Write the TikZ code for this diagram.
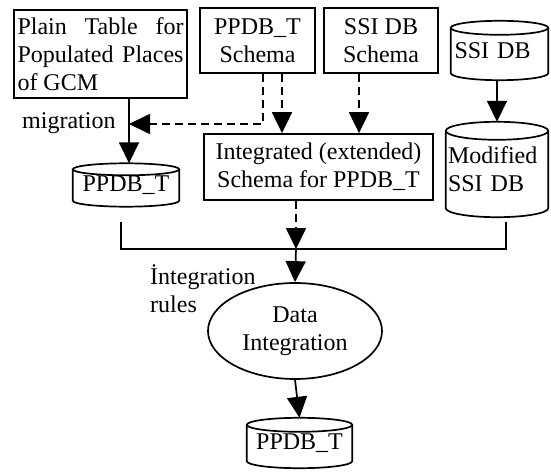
\documentclass[tikz,border=0pt]{standalone}
\usepackage{fontspec}
\setmainfont{Liberation Serif}
\usetikzlibrary{arrows.meta,shapes.geometric,calc}
\newcommand\cylout[2]{%
  \draw[ln] let \p1=(#1.west), \p2=(#1.east), \n1={(\x2-\x1)/2} in
    ([yshift=-#2pt]#1.north) ellipse [x radius=\n1, y radius=#2pt]
    ([yshift=-#2pt]#1.north west) -- ([yshift=#2pt]#1.south west)
    arc[start angle=180, end angle=360, x radius=\n1, y radius=#2pt]
    -- ([yshift=-#2pt]#1.north east);}
\begin{document}
\begin{tikzpicture}[x=1pt,y=-1pt,
  font=\fontsize{24}{28}\selectfont,
  ln/.style={line width=1.7pt},
  box/.style={draw, line width=1.7pt, inner sep=0pt, align=center},
  cyl/.style={draw=none, inner sep=0pt, align=center},
  conn/.style={line width=1.7pt, -{Triangle[length=21pt,width=20pt]}},
  dsh/.style={dash pattern=on 8pt off 5pt}]
\useasboundingbox (0,0) rectangle (551,473);

% boxes
\node[box, minimum width=173pt, minimum height=88pt, align=left] (plain) at (100.5,54)
  {\makebox[166pt][s]{Plain Table for}\\\makebox[166pt][s]{Populated Places}\\of GCM};
\node[box, minimum width=115pt, minimum height=65pt] (ppdbS) at (257.5,40.5) {PPDB\_T\\Schema};
\node[box, minimum width=114pt, minimum height=65pt] (ssiS) at (381,40.5) {SSI DB\\Schema};
\node[box, minimum width=229pt, minimum height=66pt] (integ) at (318.5,167) {Integrated (extended)\\Schema for PPDB\_T};

% cylinders
\node[cyl, minimum width=106pt, minimum height=43pt] (ppdb1) at (126,185) {PPDB\_T};
\cylout{ppdb1}{6}
\node[cyl, minimum width=97pt, minimum height=59pt, text width=90pt, align=left] (ssi) at (499.5,50.5) {SSI DB};
\cylout{ssi}{7}
\node[cyl, minimum width=102pt, minimum height=95pt, text width=98pt, align=left] (mod) at (497,169.5) {\raisebox{-6pt}{Modified}\\\raisebox{-6pt}{SSI DB}};
\cylout{mod}{9}
\node[cyl, minimum width=105pt, minimum height=50pt] (ppdb2) at (299.5,443) {PPDB\_T};
\cylout{ppdb2}{7}

% ellipse
\node[draw, ellipse, line width=1.7pt, minimum width=174pt, minimum height=96pt, inner sep=0pt, align=center] (di) at (295,331) {Data\\Integration};

% labels
\node[anchor=west, inner sep=0pt] (miglab) at (22,123) {migration};
\node[anchor=west, inner sep=0pt, align=left] (irlab) at (150,289) {İntegration\\rules};

% coordinates
\coordinate (mig) at (129,124);
\coordinate (bl) at (121,222);
\coordinate (br) at (506,222);
\coordinate (bus) at (296,249);

% connectors
\draw[conn] (plain.south -| mig) -- (ppdb1.north -| mig);
\draw[conn, dsh] (ppdbS.south -| 263,0) |- (mig);
\draw[conn, dsh] (ppdbS.south -| 282,0) -- (integ.north -| 282,0);
\draw[conn, dsh] (ssiS.south -| 359,0) -- (integ.north -| 359,0);
\draw[conn] (ssi.south -| 497,0) -- (mod.north -| 497,0);
\draw[ln] (bl) |- (bus) -| (br);
\draw[conn, dsh] (integ.south -| bus) -- (bus);
\draw[conn] (bus) -- (di.north);
\draw[conn] (di.south) -- (ppdb2.north);
\end{tikzpicture}
\end{document}
